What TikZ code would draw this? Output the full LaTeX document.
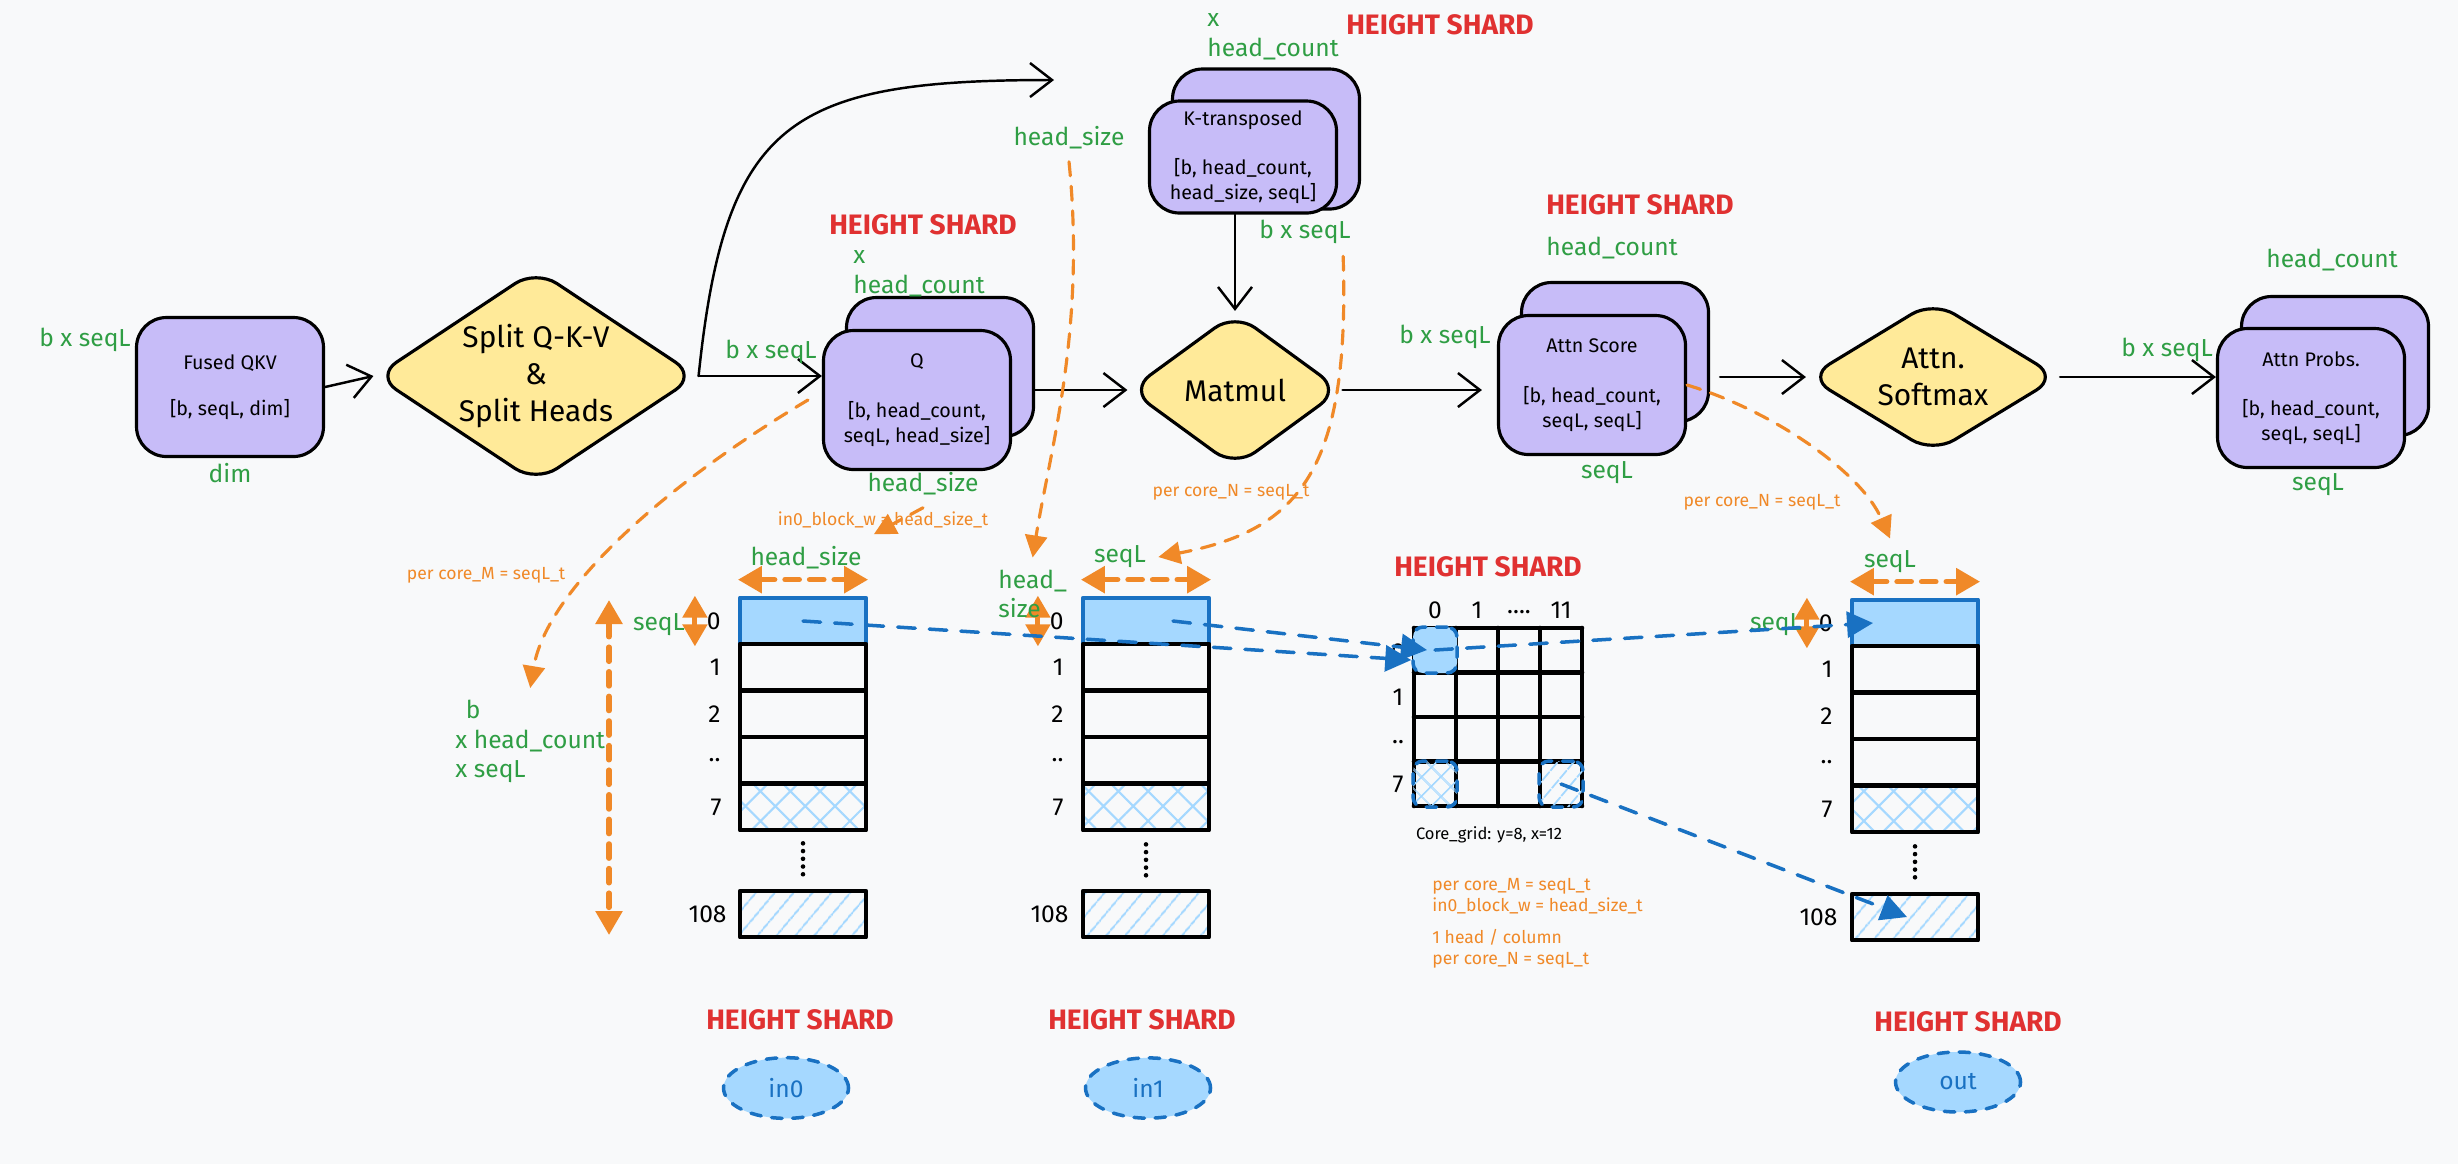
\documentclass[tikz,border=0pt]{standalone}
\usepackage{fontspec}
\setmainfont{Fira Sans}
\usepackage{tikz}
\usetikzlibrary{arrows.meta, positioning, shapes, shapes.geometric, patterns.meta, calc}
\definecolor{bgcol}{RGB}{248, 249, 250}
\definecolor{cardpurple}{RGB}{199, 188, 248}
\definecolor{decyellow}{RGB}{255, 234, 153}
\definecolor{dimgreen}{RGB}{47, 158, 68}
\definecolor{shardred}{RGB}{224, 49, 49}
\definecolor{noteorange}{RGB}{240, 137, 40}
\definecolor{tensorblue}{RGB}{165, 216, 255}
\definecolor{tensorline}{RGB}{25, 113, 194}
\tikzset{every node/.style={font=\fontsize{7}{8.4}\selectfont}, every path/.style={line cap=round, line join=round}, >={Straight Barb[length=2.2mm, width=3.4mm]}}
\tikzset{
    card/.style={draw, fill=cardpurple, line width=0.9pt, rounded corners=3mm, minimum width=18.7mm, minimum height=13.9mm, align=center, inner sep=2pt, font=\fontsize{5.6}{7.1}\selectfont},
    decision/.style={diamond, draw, fill=decyellow, line width=0.9pt, rounded corners=2.5mm, align=center, inner sep=0pt, font=\fontsize{8.5}{10.5}\selectfont},
    flow/.style={draw, ->, line width=0.7pt},
    dimlbl/.style={text=dimgreen, font=\fontsize{7}{8.4}\selectfont},
    shardlbl/.style={text=shardred, font=\bfseries\fontsize{8}{9.6}\selectfont},
    notelbl/.style={text=noteorange, font=\fontsize{5}{6}\selectfont},
    rowlbl/.style={font=\fontsize{7}{8}\selectfont},
    gridcap/.style={font=\fontsize{4.7}{5.6}\selectfont},
    odash/.style={draw=noteorange, line width=0.9pt, dash pattern=on 4pt off 3pt, -{Triangle[length=2.2mm, width=2.2mm]}},
    odim/.style={draw=noteorange, line width=1.6pt, dash pattern=on 4pt off 3pt, {Triangle[length=2.4mm, width=2.6mm]}-{Triangle[length=2.4mm, width=2.6mm]}},
    odimv/.style={draw=noteorange, line width=1.4pt, {Triangle[length=2.2mm, width=2.4mm]}-{Triangle[length=2.2mm, width=2.4mm]}},
    bdash/.style={draw=tensorline, line width=1pt, dash pattern=on 5pt off 4pt, -{Triangle[length=2.6mm, width=2.6mm]}},
    slot/.style={draw, line width=1.2pt, minimum width=12.6mm, minimum height=4.65mm, inner sep=0pt},
    slothi/.style={slot, draw=tensorline, fill=tensorblue},
    slotx/.style={slot, pattern={Hatch[angle=45, distance=6pt, line width=0.6pt]}, pattern color=tensorblue},
    slotl/.style={slot, pattern={Lines[angle=50, distance=4pt, line width=0.6pt]}, pattern color=tensorblue},
    vdots/.style={draw, line width=1.3pt, dash pattern=on 0pt off 2.2pt},
    gcell/.style={draw=tensorline, dashed, line width=1pt, rounded corners=1mm, minimum width=4.4mm, minimum height=4.6mm, inner sep=0pt},
    tensor/.style={ellipse, draw=tensorline, fill=tensorblue, dashed, line width=1pt, minimum width=12.5mm, minimum height=6mm, text=tensorline, font=\fontsize{7}{8}\selectfont}
}

\begin{document}
\begin{tikzpicture}[x=0.1mm, y=-0.1mm]
    \path[use as bounding box, fill=bgcol] (0,0) rectangle (2458,1164);

    % flow row
    \node[card] (fused) at (230,387) {Fused QKV\\[6pt][b, seqL, dim]};
    \node[decision, aspect=1.5, minimum width=32.2mm, minimum height=21.4mm] (split) at (536,376) {Split Q-K-V\\\&\\Split Heads};
    \node[card] (qback) at (940,367) {};
    \node[card] (qfront) at (917,400) {Q\\[7pt][b, head\_count,\\seqL, head\_size]};
    \node[decision, aspect=1.37, minimum width=21.2mm, minimum height=15.5mm] (matmul) at (1235,390) {Matmul};
    \node[card, minimum height=14mm] (kback) at (1266,139) {};
    \node[card, minimum height=11.2mm] (kfront) at (1243,157) {K-transposed\\[7pt][b, head\_count,\\head\_size, seqL]};
    \node[card] (sback) at (1615,352) {};
    \node[card] (sfront) at (1592,385) {Attn Score\\[7pt][b, head\_count,\\seqL, seqL]};
    \node[decision, aspect=1.64, minimum width=25.1mm, minimum height=15.3mm] (softmax) at (1933,377) {Attn.\\Softmax};
    \node[card] (pback) at (2335,366) {};
    \node[card] (pfront) at (2311,398) {Attn Probs.\\[7pt][b, head\_count,\\seqL, seqL]};

    \coordinate (kin) at (1054,80);
    \draw[flow] (fused.east) -- (split.west);
    \draw[flow] (split.east) -- (split.east -| qfront.west);
    \draw[flow] (split.east) .. controls (725,120) and (790,80) .. (kin);
    \draw[flow] (matmul.west -| qback.east) -- (matmul.west);
    \draw[flow] (matmul.north |- kfront.south) -- (matmul.north);
    \draw[flow, shorten >=1.5mm] (matmul.east) -- (matmul.east -| sfront.west);
    \draw[flow, shorten <=1mm] (softmax.west -| sback.east) -- (softmax.west);
    \draw[flow] (softmax.east) -- (softmax.east -| pfront.west);

    % dimension labels
    \node[dimlbl] (fusedrows) at (85,340) {b x seqL};
    \node[dimlbl] (fusedcols) at (230,473) {dim};
    \node[dimlbl] (qrows) at (771,352) {b x seqL};
    \node[dimlbl, align=left, anchor=west] (qheads) at (841,274) {x\\head\_count};
    \node[shardlbl] (qshard) at (923,225) {HEIGHT SHARD};
    \node[dimlbl] (qhs) at (923,484) {head\_size};
    \node[dimlbl, align=left, anchor=west] (kheads) at (1195,37) {x\\head\_count};
    \node[shardlbl] (kshard) at (1440,25) {HEIGHT SHARD};
    \node[dimlbl] (khs) at (1069,138) {head\_size};
    \node[dimlbl] (kbs) at (1305,232) {b x seqL};
    \node[shardlbl] (sshard) at (1640,205) {HEIGHT SHARD};
    \node[dimlbl] (sheads) at (1612,248) {head\_count};
    \node[dimlbl] (srows) at (1445,337) {b x seqL};
    \node[dimlbl] (scols) at (1607,473) {seqL};
    \node[dimlbl] (pheads) at (2332,260) {head\_count};
    \node[dimlbl] (prows) at (2167,350) {b x seqL};
    \node[dimlbl] (pcols) at (2318,485) {seqL};

    % in0 shard
    \node[slothi, label={[rowlbl, xshift=-0.5mm]left:0}] (in0s0) at (803,621) {};
    \node[slot, label={[rowlbl, xshift=-0.5mm]left:1}] (in0s1) at (803,667) {};
    \node[slot, label={[rowlbl, xshift=-0.5mm]left:2}] (in0s2) at (803,714) {};
    \node[slot, label={[rowlbl, xshift=-0.5mm]left:..}] (in0s3) at (803,760) {};
    \node[slotx, label={[rowlbl, xshift=-0.5mm]left:7}] (in0s4) at (803,807) {};
    \node[slotl, label={[rowlbl]left:108}] (in0s5) at (803,914) {};
    \draw[vdots] ([yshift=-1.2mm]in0s4.south) -- ([yshift=1.2mm]in0s5.north);
    \draw[odim] ([yshift=1.6mm]in0s0.north west) -- ([yshift=1.6mm]in0s0.north east);
    \draw[odimv] ([xshift=-4.3mm]in0s0.north west) -- ([xshift=-4.3mm]in0s0.south west);
    \node[dimlbl] (in0hs) at (806,558) {head\_size};
    \node[dimlbl] (in0sl) at (659,625) {seqL};
    \node[dimlbl, align=left, anchor=north west] (bhc) at (443,688) {\hspace*{3pt}b\\x head\_count\\x seqL};
    \coordinate (mtop) at (609,600);
    \coordinate (mbot) at (609,935);
    \draw[odim] (mtop) -- (mbot);

    % in1 shard
    \node[slothi, label={[rowlbl, xshift=-0.5mm]left:0}] (in1s0) at (1146,621) {};
    \node[slot, label={[rowlbl, xshift=-0.5mm]left:1}] (in1s1) at (1146,667) {};
    \node[slot, label={[rowlbl, xshift=-0.5mm]left:2}] (in1s2) at (1146,714) {};
    \node[slot, label={[rowlbl, xshift=-0.5mm]left:..}] (in1s3) at (1146,760) {};
    \node[slotx, label={[rowlbl, xshift=-0.5mm]left:7}] (in1s4) at (1146,807) {};
    \node[slotl, label={[rowlbl]left:108}] (in1s5) at (1146,914) {};
    \draw[vdots] ([yshift=-1.2mm]in1s4.south) -- ([yshift=1.2mm]in1s5.north);
    \draw[odim] ([yshift=1.6mm]in1s0.north west) -- ([yshift=1.6mm]in1s0.north east);
    \draw[odimv] ([xshift=-4.3mm]in1s0.north west) -- ([xshift=-4.3mm]in1s0.south west);
    \node[dimlbl, align=left, anchor=west] (in1hs) at (986,594) {head\_\\size};
    \node[dimlbl] (in1sl) at (1120,557) {seqL};

    % core grid
    \draw[line width=1.3pt, shift={(1414,628)}, xstep=4.2mm, ystep=4.45mm] (0,0) grid (168,178);
    \draw[line width=1.3pt] (1414,628) rectangle (1582,806);
    \node[gcell, fill=tensorblue] (cg0) at (1435,650) {};
    \node[gcell, pattern={Hatch[angle=45, distance=4pt, line width=0.5pt]}, pattern color=tensorblue] (cg7) at (1435,784) {};
    \node[gcell, pattern={Lines[angle=50, distance=3.5pt, line width=0.5pt]}, pattern color=tensorblue] (cg11) at (1561,784) {};
    \node[rowlbl] (cgc0) at (1435,610) {0};
    \node[rowlbl] (cgc1) at (1477,610) {1};
    \node[rowlbl] (cgc2) at (1519,612) {....};
    \node[rowlbl] (cgc3) at (1561,610) {11};
    \node[rowlbl] (cgr0) at (1398,652) {0};
    \node[rowlbl] (cgr1) at (1398,697) {1};
    \node[rowlbl] (cgr2) at (1398,742) {..};
    \node[rowlbl] (cgr3) at (1398,784) {7};
    \node[shardlbl] (gshard) at (1488,567) {HEIGHT SHARD};
    \node[gridcap] (gcap) at (1489,835) {Core\_grid: y=8, x=12};
    \node[notelbl, align=left, anchor=north west] (gnote) at (1420,866) {per core\_M = seqL\_t\\in0\_block\_w = head\_size\_t\\[3pt]1 head / column\\per core\_N = seqL\_t};

    % out shard
    \node[slothi, label={[rowlbl, xshift=-0.5mm]left:0}] (out0) at (1915,623) {};
    \node[slot, label={[rowlbl, xshift=-0.5mm]left:1}] (out1) at (1915,669) {};
    \node[slot, label={[rowlbl, xshift=-0.5mm]left:2}] (out2) at (1915,716) {};
    \node[slot, label={[rowlbl, xshift=-0.5mm]left:..}] (out3) at (1915,762) {};
    \node[slotx, label={[rowlbl, xshift=-0.5mm]left:7}] (out4) at (1915,809) {};
    \node[slotl, label={[rowlbl]left:108}] (out5) at (1915,917) {};
    \draw[vdots] ([yshift=-1.2mm]out4.south) -- ([yshift=1.2mm]out5.north);
    \draw[odim] ([yshift=1.6mm]out0.north west) -- ([yshift=1.6mm]out0.north east);
    \draw[odimv] ([xshift=-4.3mm]out0.north west) -- ([xshift=-4.3mm]out0.south west);
    \node[dimlbl] (outsl) at (1890,562) {seqL};
    \node[dimlbl] (outrl) at (1776,625) {seqL};

    % shard notes
    \node[notelbl] (n1) at (883,520) {in0\_block\_w = head\_size\_t};
    \node[notelbl] (n2) at (486,575) {per core\_M = seqL\_t};
    \node[notelbl] (n3) at (1231,492) {per core\_N = seqL\_t};
    \node[notelbl] (n4) at (1762,502) {per core\_N = seqL\_t};
    \draw[odash] (qhs.south) -- (in0hs.north east);
    \draw[odash] ([xshift=-1.4mm]qfront.west) .. controls (640,500) and (545,600) .. (bhc.north);
    \draw[odash] (khs.south) .. controls (1086,330) and (1050,450) .. (in1hs.north);
    \draw[odash] ([xshift=-2mm]kbs.south east) .. controls (1350,470) and (1300,530) .. (in1sl.east);
    \draw[odash] (sfront.east) .. controls (1770,410) and (1860,470) .. (outsl.north);

    % core mapping
    \draw[bdash] (in0s0.center) -- ([yshift=-1mm]cg0.west);
    \draw[bdash] ([xshift=2.7mm]in1s0.center) -- ([xshift=-0.8mm]cg0.center);
    \draw[bdash] (cg0.center) -- ([xshift=-4.2mm]out0.center);
    \draw[bdash] (cg11.center) -- ([xshift=-0.8mm]out5.center);

    % tensors
    \node[shardlbl] (in0shard) at (800,1020) {HEIGHT SHARD};
    \node[tensor] (in0t) at (786,1088) {in0};
    \node[shardlbl] (in1shard) at (1142,1020) {HEIGHT SHARD};
    \node[tensor] (in1t) at (1148,1088) {in1};
    \node[shardlbl] (outshard) at (1968,1022) {HEIGHT SHARD};
    \node[tensor] (outt) at (1958,1082) {out};
\end{tikzpicture}
\end{document}
